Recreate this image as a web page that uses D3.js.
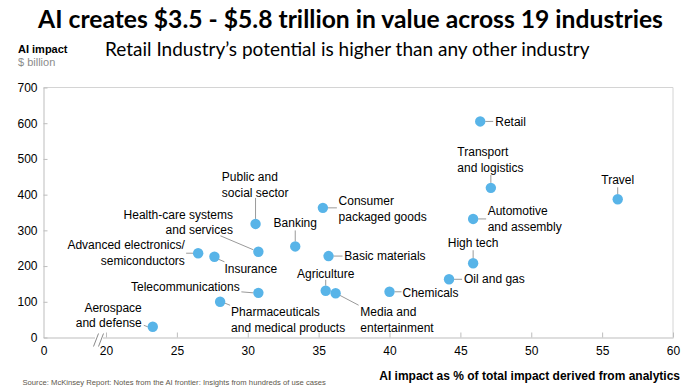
<!DOCTYPE html>
<html>
<head>
<meta charset="utf-8">
<script src="https://cdn.jsdelivr.net/npm/d3@7"></script>
<style>
  html, body { margin: 0; padding: 0; background: #fff; }
  svg { display: block; }
  text { font-family: "Liberation Sans", Arial, sans-serif; }
</style>
</head>
<body>
<svg id="chart" width="700" height="392"></svg>
<script>
// ---- Data ----
const industries = [
  "Retail", "Transport and logistics", "Travel", "Automotive and assembly",
  "High tech", "Oil and gas", "Chemicals", "Media and entertainment",
  "Agriculture", "Pharmaceuticals and medical products", "Telecommunications",
  "Insurance", "Basic materials", "Consumer packaged goods", "Banking",
  "Public and social sector", "Health-care systems and services",
  "Advanced electronics/ semiconductors", "Aerospace and defense"
];
const labelLines = [
  ["Retail"], ["Transport", "and logistics"], ["Travel"], ["Automotive", "and assembly"],
  ["High tech"], ["Oil and gas"], ["Chemicals"], ["Media and", "entertainment"],
  ["Agriculture"], ["Pharmaceuticals", "and medical products"], ["Telecommunications"],
  ["Insurance"], ["Basic materials"], ["Consumer", "packaged goods"], ["Banking"],
  ["Public and", "social sector"], ["Health-care systems", "and services"],
  ["Advanced electronics/", "semiconductors"], ["Aerospace", "and defense"]
];
// AI impact as % of total impact derived from analytics
const analyticsShare = [46.4, 47.15, 56.1, 45.9, 45.9, 44.2, 40.0, 36.2, 35.5, 28.05, 30.75, 27.65, 35.7, 35.3, 33.35, 30.55, 30.75, 26.5, 23.3];
// AI impact, $ billion
const impactBn = [605, 419, 387, 332, 208, 163, 128, 124, 131, 100, 125, 226, 228, 363, 255, 318, 240, 236, 30];

const xTicks = [0, 20, 25, 30, 35, 40, 45, 50, 55, 60];
const yTicks = [0, 100, 200, 300, 400, 500, 600, 700];

const titleText = "AI creates $3.5 - $5.8 trillion in value across 19 industries";
const subtitleText = "Retail Industry\u2019s potential is higher than any other industry";
const yTitle1 = "AI impact";
const yTitle2 = "$ billion";
const xTitle = "AI impact as % of total impact derived from analytics";
const sourceText = "Source: McKinsey Report: Notes from the AI frontier: Insights from hundreds of use cases";

// ---- Label layout (offsets relative to each dot, pixels) ----
const labelLayout = [
  {dx: 15, dy: 0, a: "start", lead: [5, 0, 13, 0]},
  {dx: -33.5, dy: -36, a: "start", lead: [0, -5, 0, -13]},
  {dx: 0, dy: -19.5, a: "middle", lead: [0, -5, 0, -12]},
  {dx: 14.5, dy: -8.3, a: "start", lead: [5, 0, 13, 0]},
  {dx: 0, dy: -20.6, a: "middle", lead: [0, -5, 0, -13]},
  {dx: 15, dy: 0, a: "start", lead: [5, 0, 13, 0]},
  {dx: 13, dy: 1, a: "start", lead: [5, 0, 12, 0]},
  {dx: 24.7, dy: 19, a: "start", lead: [4, 2, 23, 12]},
  {dx: 0, dy: -16.7, a: "middle", lead: [0, -5, 0, -11]},
  {dx: 11, dy: 10, a: "start", lead: [4, 1, 10, 3.5]},
  {dx: -18.7, dy: -6, a: "end", lead: [-17, -1, -5, 0]},
  {dx: 10, dy: 12, a: "start", lead: [3, 2, 10, 5]},
  {dx: 15.7, dy: 0, a: "start", lead: [5, 0, 14, 0]},
  {dx: 15.7, dy: -6.7, a: "start", lead: [5, 0, 14, 0]},
  {dx: 0, dy: -23.6, a: "middle", lead: [0, -5, 0, -16]},
  {dx: -33.7, dy: -47.3, a: "start", lead: [0, -5, 0, -26]},
  {dx: -25.4, dy: -37.4, a: "end", lead: [-38, -16, -5, -2]},
  {dx: -13.3, dy: -8.3, a: "end", lead: [-12, 0, -5, 0]},
  {dx: -11, dy: -19.4, a: "end", lead: [-9, -1.5, -5, 0]}
];

const data = industries.map((name, i) => ({
  name, lines: labelLines[i], share: analyticsShare[i], impact: impactBn[i], lay: labelLayout[i]
}));

// ---- Chart ----
const svg = d3.select("#chart");
const plotL = 43.5, plotR = 673, plotT = 87.5, plotB = 337.5;

// Broken x axis: 0 sits at the origin, 20..60 is linear
const x = d3.scaleLinear().domain([0, 20, 60]).range([plotL, 106, plotR]);
const y = d3.scaleLinear().domain([0, 700]).range([plotB, plotT]);

// Fit text to the reference widths
function fitText(sel, targetW, baseSize) {
  sel.style("font-size", baseSize + "px");
  const w = sel.node().getComputedTextLength();
  sel.style("font-size", (baseSize * targetW / w) + "px");
}
const title = svg.append("text").attr("x", 350.5).attr("y", 28).attr("text-anchor", "middle")
  .style("font-family", "Lato, 'Open Sans', sans-serif").style("font-weight", "bold").style("fill", "#000")
  .text(titleText);
fitText(title, 625, 24);

const sub = svg.append("text").attr("x", 105).attr("y", 56)
  .style("font-family", "Lato, 'Open Sans', sans-serif").style("fill", "#000")
  .text(subtitleText);
fitText(sub, 485, 18);

svg.append("text").attr("x", 18).attr("y", 52.5).style("font-size", "11px").style("font-weight", "bold").text(yTitle1);
svg.append("text").attr("x", 18).attr("y", 66).style("font-size", "11px").style("fill", "#8c8c8c").text(yTitle2);

// Frame (top and right)
svg.append("path")
  .attr("d", `M${plotL},${plotT}H${plotR}V${plotB}`)
  .attr("fill", "none").attr("stroke", "#d4d4d4").attr("stroke-width", 1);

// Axes
const yAxis = d3.axisLeft(y).tickValues(yTicks).tickSizeInner(-4).tickSizeOuter(0).tickPadding(6);
const gy = svg.append("g").attr("transform", `translate(${plotL},0)`).call(yAxis);
const xAxis = d3.axisBottom(x).tickValues(xTicks).tickSizeInner(-5).tickSizeOuter(0).tickPadding(9).tickFormat(d3.format("d"));
const gx = svg.append("g").attr("transform", `translate(0,${plotB})`).call(xAxis);
[gx, gy].forEach(g => {
  g.select(".domain").attr("stroke", "#bdbdbd");
  g.selectAll(".tick line").attr("stroke", "#bdbdbd");
  g.selectAll(".tick text").style("font-size", "12px").style("font-family", "'Liberation Sans', Arial, sans-serif").attr("fill", "#000");
});
gx.selectAll(".tick").filter(d => d === 0).select("line").remove();

// Axis break marks
const bx = x(20) - 10;
svg.append("rect").attr("x", bx - 1).attr("y", plotB - 2).attr("width", 8).attr("height", 4).attr("fill", "#fff");
[0, 5].forEach(o => {
  svg.append("line")
    .attr("x1", bx - 2.5 + o).attr("y1", plotB + 9)
    .attr("x2", bx + 2.5 + o).attr("y2", plotB - 4)
    .attr("stroke", "#8a8a8a").attr("stroke-width", 1);
});

// Leader lines
const pts = svg.append("g");
pts.selectAll("line.lead").data(data).join("line").attr("class", "lead")
  .attr("x1", d => x(d.share) + d.lay.lead[0]).attr("y1", d => y(d.impact) + d.lay.lead[1])
  .attr("x2", d => x(d.share) + d.lay.lead[2]).attr("y2", d => y(d.impact) + d.lay.lead[3])
  .attr("stroke", "#9a9a9a").attr("stroke-width", 1);

// Dots
pts.selectAll("circle").data(data).join("circle")
  .attr("cx", d => x(d.share)).attr("cy", d => y(d.impact)).attr("r", 5.2)
  .attr("fill", "#58B4E8");

// Labels
const lineH = 15.7;
const labels = pts.selectAll("text.lab").data(data).join("text").attr("class", "lab")
  .attr("text-anchor", d => d.lay.a)
  .style("font-size", "12px").attr("fill", "#000");
labels.each(function(d) {
  const t = d3.select(this);
  d.lines.forEach((ln, k) => {
    t.append("tspan")
      .attr("x", x(d.share) + d.lay.dx)
      .attr("y", y(d.impact) + d.lay.dy + k * lineH)
      .attr("dy", "0.35em")
      .text(ln);
  });
});

// X axis title and source
svg.append("text").attr("x", 680).attr("y", 379.5).attr("text-anchor", "end")
  .style("font-size", "12px").style("font-weight", "bold").text(xTitle);
const src = svg.append("text").attr("x", 22.5).attr("y", 385).attr("fill", "#5e574c").text(sourceText);
fitText(src, 304, 8);
</script>
</body>
</html>
